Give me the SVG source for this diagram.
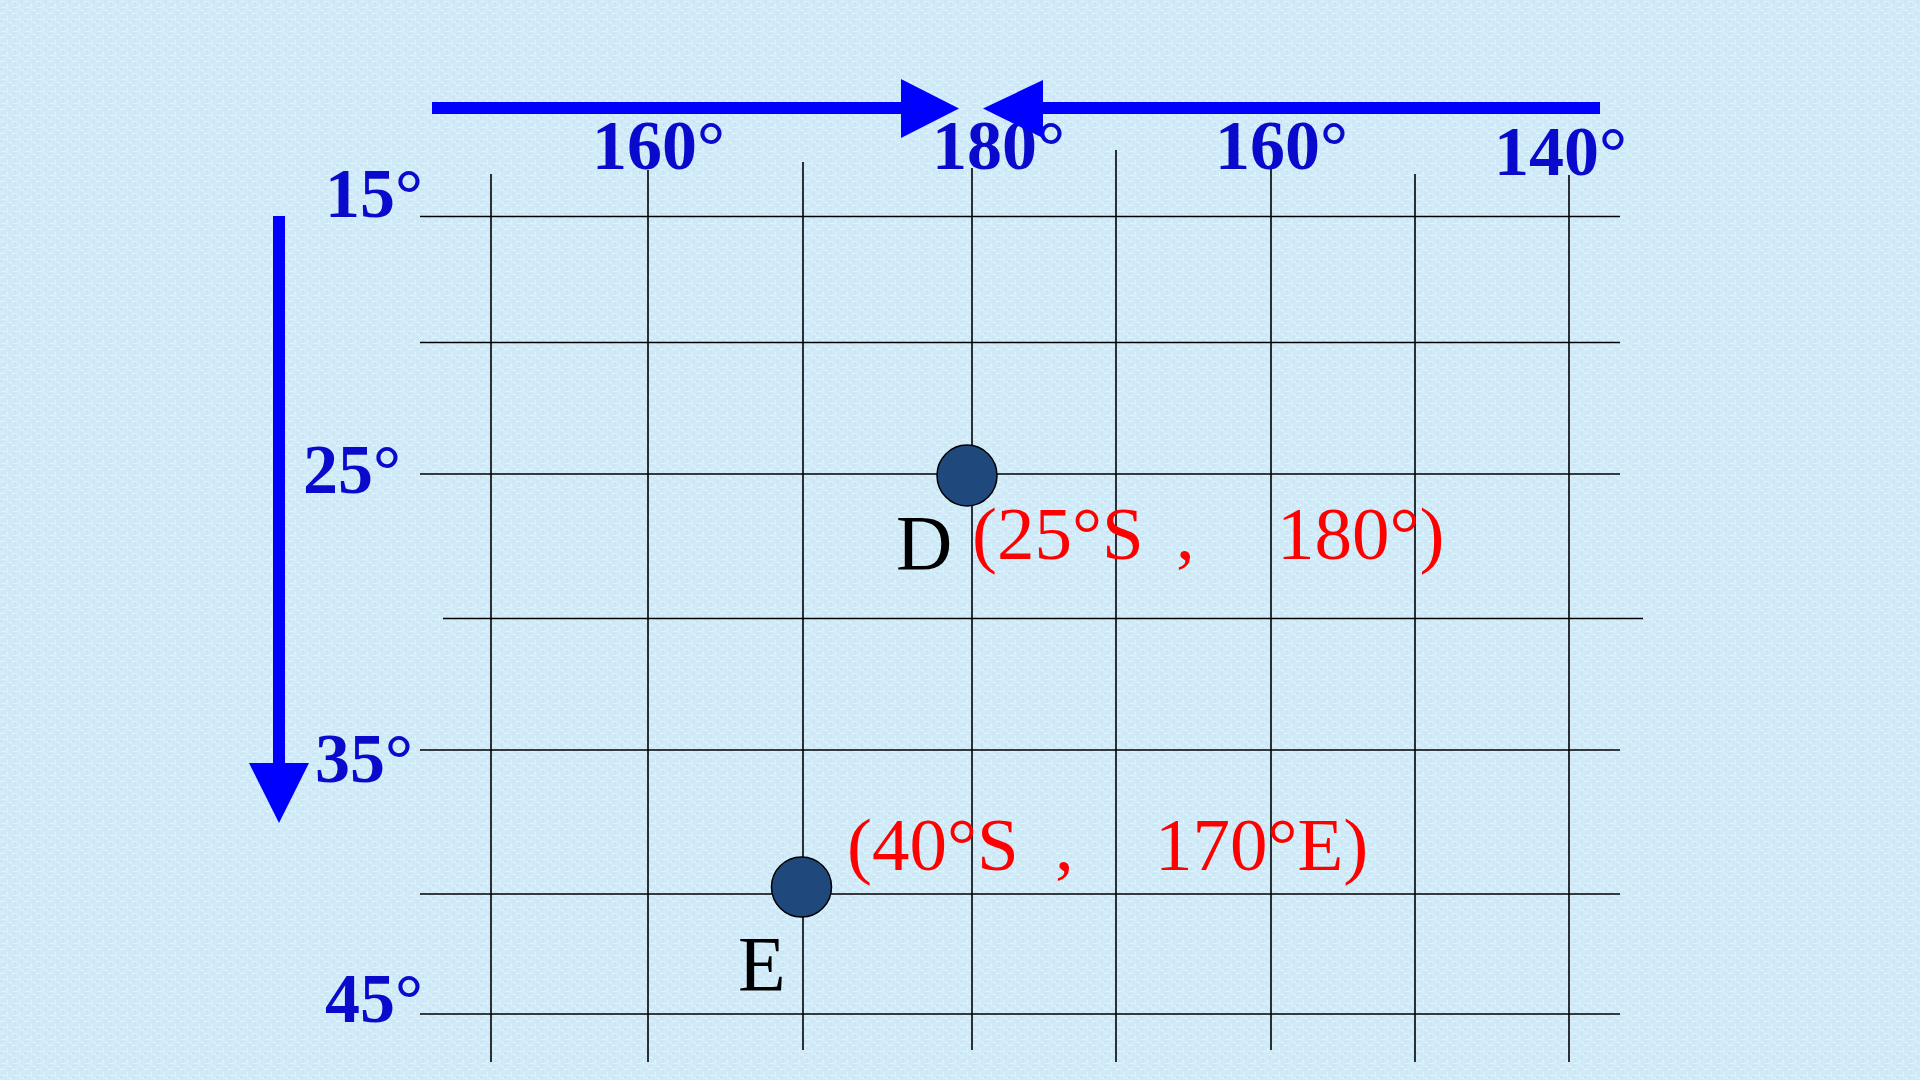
<svg xmlns="http://www.w3.org/2000/svg" width="1920" height="1080" viewBox="0 0 1920 1080">
<style>
.grid line{stroke:#000;stroke-width:1.6}
.ax{font-family:"Times New Roman","Liberation Serif",serif;font-weight:bold;font-size:70px;fill:#0A0ACC}
.lab{font-family:"Times New Roman","Liberation Serif",serif;font-size:78px;fill:#000}
.coord{font-family:"Times New Roman","Liberation Serif",serif;font-size:75px;fill:#FF0000}
.pt{fill:#1F497D;stroke:#000;stroke-width:1.5}
.arr{fill:#0000FF}
</style>
<defs>
<pattern id="tex" width="12" height="12" patternUnits="userSpaceOnUse">
<rect width="12" height="12" fill="#D0EAF7"/>
<rect x="0" y="1" width="5" height="1" fill="#E3F4FC"/>
<rect x="7" y="4" width="1" height="5" fill="#E3F4FC"/>
<rect x="2" y="7" width="4" height="1" fill="#E3F4FC"/>
<rect x="9" y="10" width="3" height="1" fill="#E3F4FC"/>
<rect x="3" y="3" width="1" height="3" fill="#C4E2F2"/>
<rect x="9" y="0" width="1" height="3" fill="#C4E2F2"/>
<rect x="0" y="9" width="3" height="1" fill="#C4E2F2"/>
</pattern>
</defs>
<rect width="1920" height="1080" fill="url(#tex)"/>
<g id="grid" class="grid">
<line x1="420" y1="216.5" x2="1620" y2="216.5"/>
<line x1="420" y1="342.5" x2="1620" y2="342.5"/>
<line x1="420" y1="474" x2="1620" y2="474"/>
<line x1="443" y1="618.5" x2="1643" y2="618.5"/>
<line x1="420" y1="750" x2="1620" y2="750"/>
<line x1="420" y1="894" x2="1620" y2="894"/>
<line x1="420" y1="1014" x2="1620" y2="1014"/>
<line x1="491" y1="174" x2="491" y2="1062"/>
<line x1="648" y1="170" x2="648" y2="1062"/>
<line x1="803" y1="162" x2="803" y2="1050"/>
<line x1="972" y1="168" x2="972" y2="1050"/>
<line x1="1116" y1="150" x2="1116" y2="1062"/>
<line x1="1271" y1="168" x2="1271" y2="1050"/>
<line x1="1415" y1="174" x2="1415" y2="1062"/>
<line x1="1569" y1="175" x2="1569" y2="1062"/>
</g>
<g id="labels-lon">
<text class="ax" x="592" y="169">160°</text>
<text class="ax" x="932" y="169">180°</text>
<text class="ax" x="1215" y="169">160°</text>
<text class="ax" x="1494" y="175">140°</text>
</g>
<g id="labels-lat">
<text class="ax" x="423" y="217" text-anchor="end">15°</text>
<text class="ax" x="401" y="493" text-anchor="end">25°</text>
<text class="ax" x="413" y="782" text-anchor="end">35°</text>
<text class="ax" x="423" y="1022" text-anchor="end">45°</text>
</g>
<g id="connectors">
<path class="arr" d="M432 102 H901 V79 L959 108.5 L901 138 V114 H432 Z"/>
<path class="arr" d="M1600 102 H1043 V80 L983 108.5 L1043 138 V114 H1600 Z"/>
<path class="arr" d="M273 216 V763 H249 L279 823 L309 763 H285 V216 Z"/>
</g>
<g id="node-D">
<ellipse class="pt" cx="967" cy="475.5" rx="30" ry="30.5"/>
<text class="lab" x="896" y="569">D</text>
<text class="coord" y="559"><tspan x="972">(25°S</tspan><tspan x="1176">,</tspan><tspan x="1277">180°)</tspan></text>
</g>
<g id="node-E">
<ellipse class="pt" cx="801.5" cy="887" rx="30" ry="30"/>
<text class="lab" x="738" y="990">E</text>
<text class="coord" y="870"><tspan x="847">(40°S</tspan><tspan x="1055">,</tspan><tspan x="1155">170°E)</tspan></text>
</g>
</svg>
